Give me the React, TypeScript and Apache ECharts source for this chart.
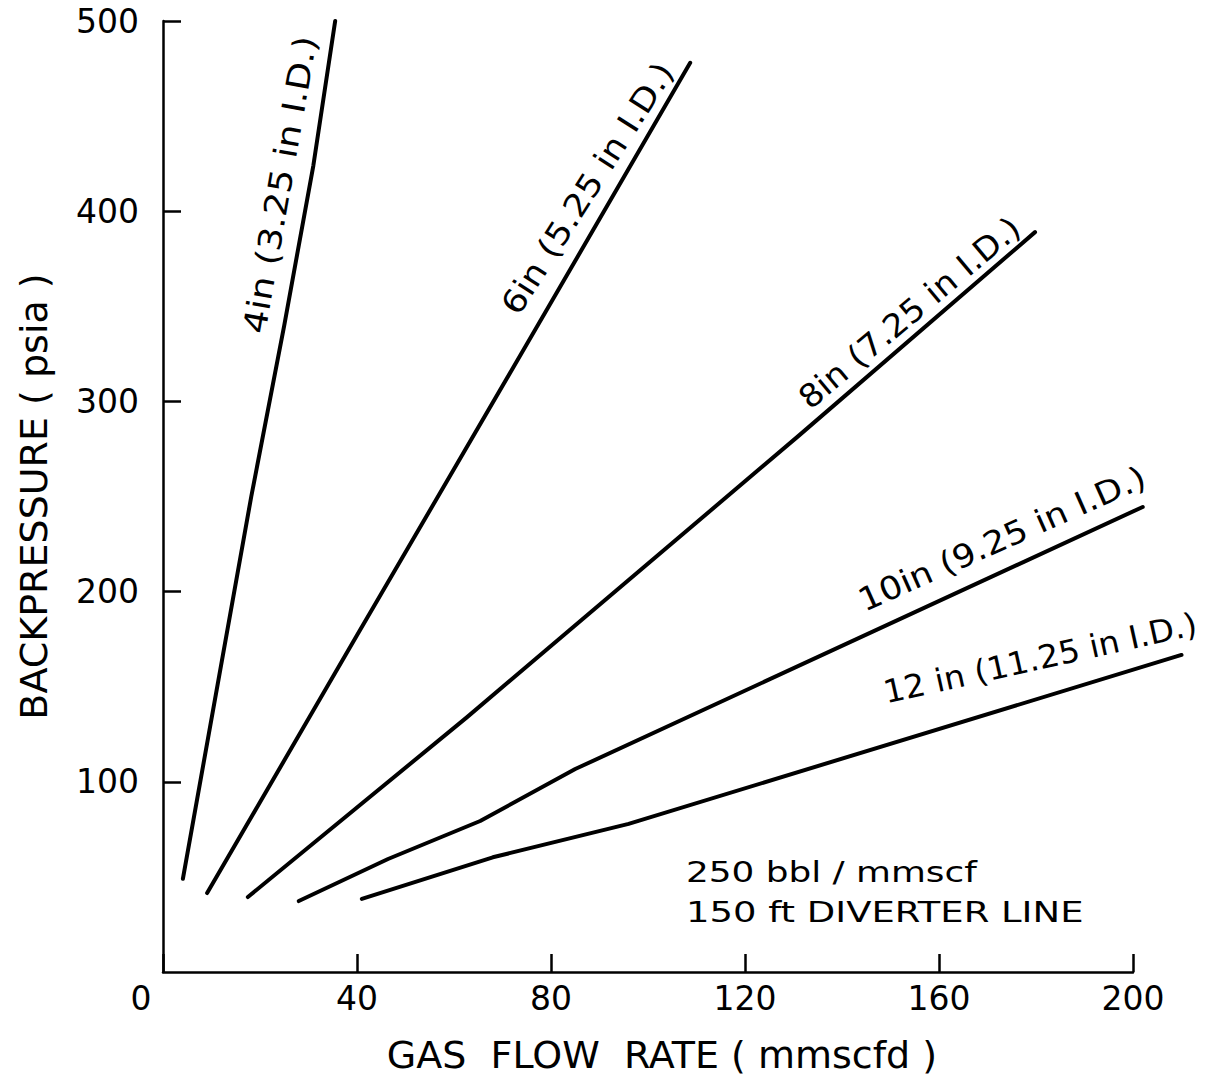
import React, { useEffect, useRef } from "react";
import * as echarts from "echarts";

// ---- data ----
const xTicks = [0, 40, 80, 120, 160, 200];
const yTicks = [0, 100, 200, 300, 400, 500];
const xPlotMax = 215; // curves run a little past the last tick

const seriesNames = ["4in", "6in", "8in", "10in", "12in"];
const seriesLabels = [
  "4in (3.25 in I.D.)",
  "6in (5.25 in I.D.)",
  "8in (7.25 in I.D.)",
  "10in (9.25 in I.D.)",
  "12 in (11.25 in I.D.)",
];

const pipe4in = [[4.1, 49], [18.2, 250], [25, 340], [31, 424], [35.5, 500]];
const pipe6in = [[9.1, 41.5], [40, 177], [75, 330], [108.7, 478]];
const pipe8in = [[17.5, 39.4], [62.7, 134], [131.1, 282], [179.8, 389]];
const pipe10in = [[28, 37.3], [46.4, 59.4], [65.4, 79.4], [85, 106.7], [202, 244.5]];
const pipe12in = [[41, 38.4], [68, 60.3], [96, 77.9], [210, 166.7]];

const noteLines = ["250 bbl / mmscf", "150 ft DIVERTER LINE"];

const xTitle = "GAS  FLOW  RATE ( mmscfd )";
const yTitle = "BACKPRESSURE ( psia )";

const FONT = "DejaVu Sans";

function plainText(text: string, x: number, y: number, deg: number, fontSize: number, scaleX: number) {
  return {
    type: "text",
    x,
    y,
    rotation: (deg * Math.PI) / 180,
    scaleX,
    scaleY: 1,
    silent: true,
    style: {
      text,
      fill: "#000",
      fontSize,
      fontFamily: FONT,
      textAlign: "left",
      align: "left",
      textVerticalAlign: "middle",
      verticalAlign: "middle",
    },
  };
}

export default function App() {
  const ref = useRef<HTMLDivElement>(null);

  useEffect(() => {
    document.body.style.margin = "0";
    const chart = echarts.init(ref.current!, undefined, { renderer: "svg" });

    const allData = [pipe4in, pipe6in, pipe8in, pipe10in, pipe12in];
    const gridLeft = 163;
    const gridTop = 21;
    const gridW = 970;
    const gridH = 951;
    const xMax = xTicks[xTicks.length - 1];

    const axisLineStyle = { color: "#000", width: 2.5 };

    const option: any = {
      animation: false,
      backgroundColor: "#fff",
      textStyle: { fontFamily: FONT, color: "#000" },
      grid: [
        { left: gridLeft, top: gridTop, width: gridW, height: gridH },
        { left: gridLeft, top: gridTop, width: (gridW * xPlotMax) / xMax, height: gridH },
      ],
      xAxis: [
        {
          gridIndex: 0,
          type: "value",
          min: xTicks[0],
          max: xMax,
          interval: xTicks[1] - xTicks[0],
          name: xTitle,
          nameLocation: "middle",
          nameGap: 64,
          nameTextStyle: {
            fontSize: 38,
            fontFamily: FONT,
            color: "#000",
            padding: [0, 0, 0, 28],
          },
          axisLine: { show: true, lineStyle: axisLineStyle },
          axisTick: { show: true, inside: true, length: 18, lineStyle: axisLineStyle },
          splitLine: { show: false },
          axisLabel: {
            fontSize: 33,
            fontFamily: FONT,
            color: "#000",
            margin: 10,
            formatter: (v: number) => (v === 0 ? "{z|0}" : String(v)),
            rich: {
              z: { fontSize: 33, fontFamily: FONT, color: "#000", padding: [0, 44, 0, 0] },
            },
          },
        },
        {
          gridIndex: 1,
          type: "value",
          min: xTicks[0],
          max: xPlotMax,
          show: false,
        },
      ],
      yAxis: [
        {
          gridIndex: 0,
          type: "value",
          min: yTicks[0],
          max: yTicks[yTicks.length - 1],
          interval: yTicks[1] - yTicks[0],
          name: yTitle,
          nameLocation: "middle",
          nameGap: 110,
          nameRotate: 90,
          nameTextStyle: { fontSize: 38, fontFamily: FONT, color: "#000" },
          axisLine: { show: true, lineStyle: axisLineStyle },
          axisTick: { show: true, inside: true, length: 18, lineStyle: axisLineStyle },
          splitLine: { show: false },
          axisLabel: {
            fontSize: 33,
            fontFamily: FONT,
            color: "#000",
            margin: 24,
            showMinLabel: false,
            formatter: (v: number) => (v === 0 ? "" : String(v)),
          },
        },
        {
          gridIndex: 1,
          type: "value",
          min: yTicks[0],
          max: yTicks[yTicks.length - 1],
          show: false,
        },
      ],
      series: allData.map((d, i) => ({
        name: seriesNames[i],
        type: "line",
        xAxisIndex: 1,
        yAxisIndex: 1,
        data: d,
        symbol: "none",
        showSymbol: false,
        clip: false,
        smooth: false,
        lineStyle: { color: "#000", width: 4, cap: "round", join: "round" },
      })),
      graphic: [
        plainText(seriesLabels[0], 254, 333, 80, 32, 1.16),
        plainText(seriesLabels[1], 509, 311, 57.5, 32, 1.12),
        plainText(seriesLabels[2], 803, 402, 40, 32, 1.07),
        plainText(seriesLabels[3], 860, 602, 24, 32, 1.11),
        plainText(seriesLabels[4], 884, 693, 12.5, 32, 1.03),
        plainText(noteLines[0], 686, 872, 0, 28, 1.28),
        plainText(noteLines[1], 686, 913, 0, 28, 1.32),
      ],
    };

    chart.setOption(option);
    return () => chart.dispose();
  }, []);

  return (
    <div
      ref={ref}
      style={{ width: 1207, height: 1089, position: "absolute", left: 0, top: 0, background: "#fff" }}
    />
  );
}
